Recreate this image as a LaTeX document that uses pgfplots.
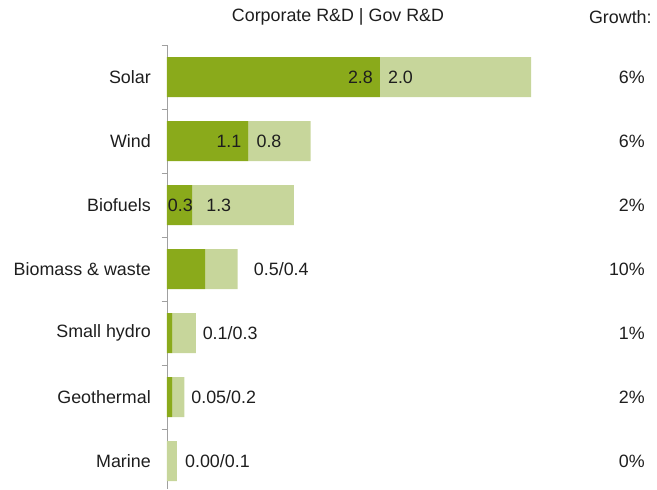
\documentclass[border=0pt]{standalone}
\usepackage{pgfplots}
\pgfplotsset{compat=1.18}
\usepackage{fontspec}
\setmainfont{Liberation Sans}
\definecolor{darkg}{RGB}{138,170,27}
\definecolor{lightg}{RGB}{199,214,155}
\definecolor{txt}{RGB}{30,30,30}
\definecolor{axg}{RGB}{160,160,160}
\tikzset{lbl/.style={inner sep=0pt, text=txt}}
\begin{document}
\begin{tikzpicture}[font=\fontsize{13.4}{15.5}\selectfont, text=txt]
\begin{axis}[
  at={(0,0)}, anchor=south west,
  scale only axis, width=367.5pt, height=333pt,
  xmin=0, xmax=6.447, ymin=-0.5, ymax=6.4375,
  y dir=reverse,
  xbar stacked, bar width=30pt,
  axis x line=none, axis y line=left,
  axis line style={-, axg},
  ytick={0,1,2,3,4,5,6},
  yticklabels={Solar,Wind,Biofuels,Biomass \& waste,Small hydro,Geothermal,Marine},
  minor ytick={-0.5,0.5,1.5,2.5,3.5,4.5,5.5},
  major tick length=0pt, minor tick length=4pt,
  tick align=outside,
  minor tick style={axg},
  yticklabel style={inner sep=0pt, anchor=east, xshift=-12pt, text=txt},
  clip=false,
]
\addplot[fill=darkg, draw=none] coordinates {(2.80,0) (1.07,1) (0.33,2) (0.50,3) (0.07,4) (0.07,5) (0.0,6)};
\addplot[fill=lightg, draw=none] coordinates {(1.99,0) (0.82,1) (1.34,2) (0.43,3) (0.31,4) (0.16,5) (0.13,6)};
% anchors for in-bar labels
\coordinate (s) at (axis cs:2.80,0);
\coordinate (w) at (axis cs:1.07,1);
\coordinate (b0) at (axis cs:0,2);
\coordinate (b1) at (axis cs:0.33,2);
\node[lbl, anchor=west] at (axis cs:0.93,3) [xshift=12pt] {0.5/0.4};
\node[lbl, anchor=west] at (axis cs:0.38,4) [xshift=5pt] {0.1/0.3};
\node[lbl, anchor=west] at (axis cs:0.23,5) [xshift=5pt] {0.05/0.2};
\node[lbl, anchor=west] at (axis cs:0.13,6) [xshift=6pt] {0.00/0.1};
% growth
\node[lbl, anchor=east] at (axis cs:6.29,0) {6\%};
\node[lbl, anchor=east] at (axis cs:6.29,1) {6\%};
\node[lbl, anchor=east] at (axis cs:6.29,2) {2\%};
\node[lbl, anchor=east] at (axis cs:6.29,3) {10\%};
\node[lbl, anchor=east] at (axis cs:6.29,4) {1\%};
\node[lbl, anchor=east] at (axis cs:6.29,5) {2\%};
\node[lbl, anchor=east] at (axis cs:6.29,6) {0\%};
% headers
\node[lbl] at (axis cs:2.25,-0.94) {Corporate R\&D | Gov R\&D};
\node[lbl, anchor=east] at (axis cs:6.38,-0.94) {Growth:};
\end{axis}
\node[lbl, anchor=east] at ([xshift=-5pt]s) {2.8};
\node[lbl, anchor=west] at ([xshift=6pt]s) {2.0};
\node[lbl, anchor=east] at ([xshift=-5pt]w) {1.1};
\node[lbl, anchor=west] at ([xshift=6pt]w) {0.8};
\node[lbl, anchor=west] at ([xshift=0.5pt]b0) {0.3};
\node[lbl, anchor=west] at ([xshift=10.5pt]b1) {1.3};
\useasboundingbox (-125.25pt,0) rectangle (367.5pt,366.75pt);
\end{tikzpicture}
\end{document}
